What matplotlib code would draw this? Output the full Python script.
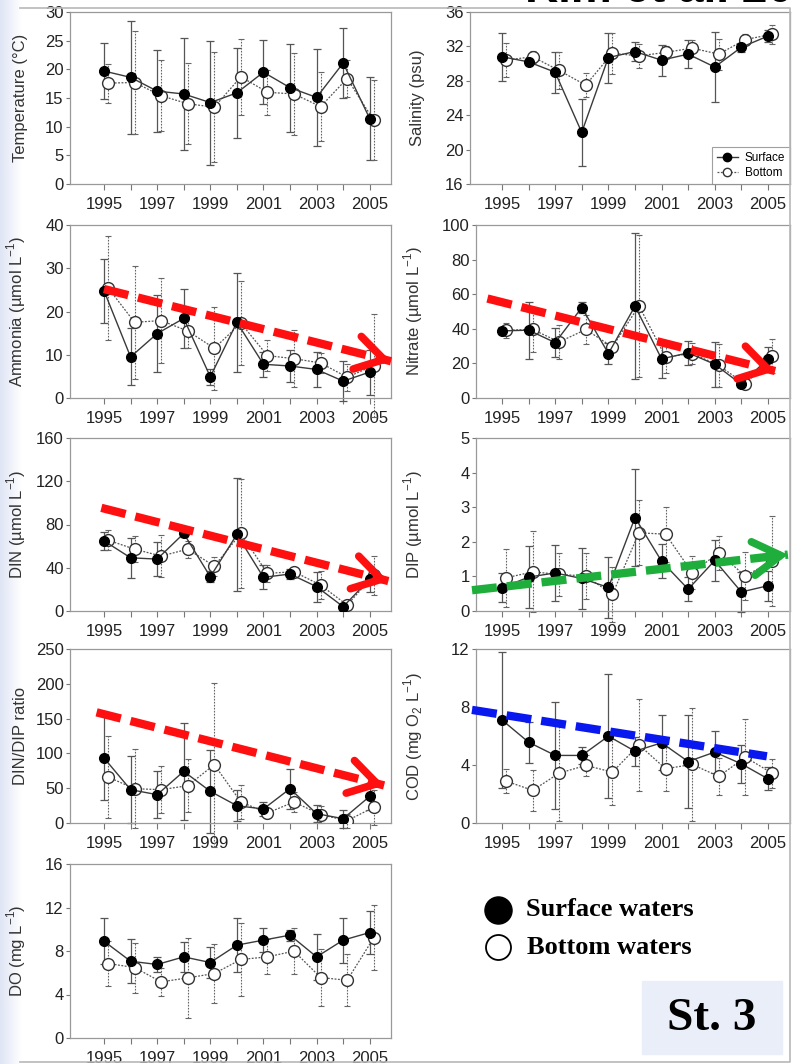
import numpy as np
import matplotlib.pyplot as plt
from matplotlib.lines import Line2D
from matplotlib.patches import Rectangle
from matplotlib.colors import LinearSegmentedColormap

plt.rcParams['font.family'] = ['Liberation Sans', 'DejaVu Sans']

years = np.arange(1995, 2006)

# --- data (mean and +/- sd) ---
temp_surf = [19.7, 18.6, 16.2, 15.7, 14.2, 15.9, 19.5, 16.8, 15.1, 21.1, 11.4]
temp_surf_sd = [4.9, 9.8, 7.2, 9.8, 10.8, 7.8, 5.6, 7.7, 8.4, 6.1, 7.2]
temp_bot = [17.6, 17.7, 15.4, 14.0, 13.4, 18.7, 16.0, 15.7, 13.5, 18.4, 11.1]
temp_bot_sd = [3.4, 9.0, 6.2, 7.1, 9.6, 6.6, 3.9, 7.1, 6.0, 3.3, 7.0]

sal_surf = [30.8, 30.2, 29.0, 22.0, 30.7, 31.4, 30.4, 31.1, 29.6, 31.9, 33.2]
sal_surf_sd = [2.8, 0.4, 2.4, 3.9, 2.9, 1.1, 1.8, 1.6, 4.1, 0.5, 0.7]
sal_bot = [30.4, 30.8, 29.2, 27.5, 31.2, 30.9, 31.3, 31.8, 31.1, 32.8, 33.4]
sal_bot_sd = [2.0, 0.7, 2.1, 1.4, 2.4, 1.4, 0.8, 1.0, 1.8, 0.6, 1.1]

amm_surf = [24.8, 9.5, 14.9, 18.4, 4.9, 17.5, 7.8, 7.4, 6.6, 3.9, 6.0]
amm_surf_sd = [7.4, 6.6, 8.9, 6.9, 1.8, 11.5, 2.9, 3.6, 4.0, 4.7, 5.2]
amm_bot = [25.5, 17.5, 17.9, 15.5, 11.5, 17.3, 9.8, 9.1, 8.1, 4.8, 7.5]
amm_bot_sd = [12.0, 13.0, 9.8, 4.0, 9.6, 9.7, 3.5, 6.6, 2.3, 3.1, 12.0]

nit_surf = [38.8, 39.2, 32.0, 52.3, 25.7, 53.1, 22.6, 26.1, 19.5, 7.9, 22.8]
nit_surf_sd = [2.0, 16.4, 8.5, 3.4, 6.0, 42.0, 11.0, 7.0, 13.0, 1.0, 6.5]
nit_bot = [39.2, 39.6, 32.4, 39.6, 29.5, 53.3, 23.7, 25.7, 18.9, 7.9, 24.3]
nit_bot_sd = [4.4, 13.0, 9.8, 8.3, 3.0, 41.0, 9.0, 6.0, 12.5, 1.0, 10.0]

din_surf = [64.9, 49.2, 48.0, 71.7, 31.7, 70.8, 31.1, 34.2, 22.5, 4.0, 29.5]
din_surf_sd = [8.5, 18.6, 16.0, 3.0, 5.0, 52.0, 11.0, 5.0, 14.0, 2.0, 12.0]
din_bot = [65.5, 57.2, 50.8, 57.2, 41.5, 71.7, 34.8, 36.3, 24.0, 5.5, 33.0]
din_bot_sd = [9.0, 12.0, 19.5, 8.0, 8.8, 50.0, 7.7, 4.6, 12.6, 2.0, 18.0]

dip_surf = [0.67, 0.98, 1.10, 0.94, 0.68, 2.70, 1.44, 0.63, 1.46, 0.55, 0.73]
dip_surf_sd = [0.42, 0.90, 0.82, 0.88, 0.87, 1.39, 0.50, 0.34, 0.58, 0.57, 0.43]
dip_bot = [0.96, 1.13, 1.06, 1.01, 0.48, 2.26, 2.22, 1.11, 1.68, 1.01, 1.45]
dip_bot_sd = [0.84, 1.17, 0.62, 0.67, 0.80, 0.94, 0.80, 0.47, 0.50, 0.70, 1.30]

ratio_surf = [93.4, 47.9, 40.7, 74.2, 45.5, 24.9, 20.1, 49.3, 13.4, 6.2, 38.3]
ratio_surf_sd = [60, 48, 34, 70, 60, 22, 9.5, 29, 12, 13, 19]
ratio_bot = [66.1, 49.3, 47.9, 53.6, 83.8, 30.2, 14.4, 30.2, 12.0, 3.4, 22.5]
ratio_bot_sd = [59, 57, 34, 38, 118, 25, 7, 14, 12, 10, 25]

cod_surf = [7.1, 5.57, 4.66, 4.66, 5.99, 4.95, 5.53, 4.24, 4.89, 4.08, 3.05]
cod_surf_sd = [4.7, 1.4, 3.7, 0.6, 4.3, 1.0, 1.9, 3.2, 1.45, 1.3, 0.8]
cod_bot = [2.89, 2.25, 3.44, 3.97, 3.51, 5.39, 3.74, 4.04, 3.21, 4.54, 3.44]
cod_bot_sd = [0.85, 1.4, 3.3, 0.7, 2.3, 3.15, 1.5, 3.9, 1.3, 2.6, 1.0]

do_surf = [8.9, 7.06, 6.76, 7.46, 6.94, 8.54, 9.0, 9.46, 7.46, 9.0, 9.7]
do_surf_sd = [2.1, 2.0, 0.7, 1.4, 1.4, 2.45, 1.07, 0.5, 2.1, 2.07, 2.0]
do_bot = [6.85, 6.48, 5.16, 5.53, 5.93, 7.22, 7.46, 7.99, 5.56, 5.31, 9.21]
do_bot_sd = [2.1, 2.3, 1.3, 3.7, 2.7, 3.4, 1.6, 2.1, 2.65, 2.4, 3.0]

# trend arrows: (start, end) in data units
amm_trend = [(1995.0, 25.2), (2005.8, 8.5)]
nit_trend = [(1994.45, 57.5), (2005.27, 15.6)]
din_trend = [(1994.9, 95.4), (2005.7, 27.7)]
dip_trend = [(1993.87, 0.60), (2005.75, 1.63)]
ratio_trend = [(1994.72, 159.0), (2005.54, 54.0)]
cod_trend = [(1993.87, 7.8), (2004.96, 4.6)]

ul = r'$^{\mathregular{-1}}$'
panels = [
    ('Temperature (°C)', temp_surf, temp_surf_sd, temp_bot, temp_bot_sd, (0, 30, 5), None, None),
    ('Salinity (psu)', sal_surf, sal_surf_sd, sal_bot, sal_bot_sd, (16, 36, 4), None, None),
    ('Ammonia (µmol L' + ul + ')', amm_surf, amm_surf_sd, amm_bot, amm_bot_sd, (0, 40, 10), amm_trend, '#ff1010'),
    ('Nitrate (µmol L' + ul + ')', nit_surf, nit_surf_sd, nit_bot, nit_bot_sd, (0, 100, 20), nit_trend, '#ff1010'),
    ('DIN (µmol L' + ul + ')', din_surf, din_surf_sd, din_bot, din_bot_sd, (0, 160, 40), din_trend, '#ff1010'),
    ('DIP (µmol L' + ul + ')', dip_surf, dip_surf_sd, dip_bot, dip_bot_sd, (0, 5, 1), dip_trend, '#1fae3c'),
    ('DIN/DIP ratio', ratio_surf, ratio_surf_sd, ratio_bot, ratio_bot_sd, (0, 250, 50), ratio_trend, '#ff1010'),
    ('COD (mg O$_{\\mathregular{2}}$ L' + ul + ')', cod_surf, cod_surf_sd, cod_bot, cod_bot_sd, (0, 12, 4), cod_trend, '#0a18f0'),
    ('DO (mg L' + ul + ')', do_surf, do_surf_sd, do_bot, do_bot_sd, (0, 16, 4), None, None),
]

W, H = 798, 1064
fig = plt.figure(figsize=(W / 100, H / 100), dpi=100)

# pixel boxes (left, right, top, bottom), x-limits and ylabel centre x
rows = [(12, 184), (225, 398), (438, 611), (649, 823), (864, 1038)]
left_box = (70, 391)
right_box = (476, 790)
label_x_left = 28
label_x_right = 425

for i, (label, s, s_sd, b, b_sd, yt, trend, tcol) in enumerate(panels):
    r, c = divmod(i, 2)
    top, bot = rows[r]
    if c == 0:
        x0, x1 = left_box
        xlim = (1993.72, 2005.8)
        lx = label_x_left
    else:
        x0, x1 = right_box
        xlim = (1994.02, 2005.83)
        lx = label_x_right
        if i == 1:
            x0, xlim = 470, (1993.8, 2005.83)
    ax = fig.add_axes([x0 / W, 1 - bot / H, (x1 - x0) / W, (bot - top) / H])

    # surface
    eb = ax.errorbar(years, s, yerr=s_sd, fmt='none', ecolor='#555555', elinewidth=0.9,
                     capsize=3, capthick=0.9, zorder=2)
    for art in eb.lines[1]:
        art.set_clip_on(False)
    for art in eb.lines[2]:
        art.set_clip_on(False)
    # bottom
    xb = years + 0.15
    eb2 = ax.errorbar(xb, b, yerr=b_sd, fmt='none', ecolor='#666666', elinewidth=0.8,
                      capsize=2.5, capthick=0.8, zorder=2)
    for art in eb2.lines[2]:
        art.set_linestyle((0, (1.5, 1.2)))
        art.set_clip_on(False)
    for art in eb2.lines[1]:
        art.set_clip_on(False)
    ax.plot(xb, b, color='#555555', lw=0.9, ls=(0, (1.5, 1.2)), marker='o', ms=8.5,
            mfc='white', mec='#333333', mew=1.0, zorder=3, label='Bottom')
    ax.plot(years, s, color='#3a3a3a', lw=1.0, marker='o', ms=7, mfc='black',
            mec='black', zorder=4, label='Surface')

    ax.set_xlim(*xlim)
    ax.set_ylim(yt[0], yt[1])
    ax.set_yticks(np.arange(yt[0], yt[1] + yt[2] / 2, yt[2]))
    ax.set_xticks([1995, 1997, 1999, 2001, 2003, 2005])
    ax.set_xticks([1996, 1998, 2000, 2002, 2004], minor=True)
    ax.tick_params(axis='x', which='both', direction='out', length=4.5, width=0.8,
                   color='#777777', labelsize=12, pad=5, labelcolor='#222222')
    ax.tick_params(axis='y', direction='out', length=3, width=0.8, color='#777777',
                   labelsize=12, pad=1.5, labelcolor='#222222')
    for sp in ax.spines.values():
        sp.set_color('#999999')
        sp.set_linewidth(0.9)
    ax.set_ylabel(label, fontsize=12, color='#333333')
    ax.yaxis.set_label_coords(-(x0 - lx) / (x1 - x0), 0.5)

    if trend is not None:
        (xs, ys), (xe, ye) = trend
        ax.plot([xs, xe], [ys, ye], color=tcol, lw=6, dashes=(3.0, 1.2),
                solid_capstyle='butt', dash_capstyle='butt', clip_on=False, zorder=6)
        if tcol != '#0a18f0':
            xp = xe - 0.03 * (xe - xs)
            yp = ye - 0.03 * (ye - ys)
            ax.annotate('', xy=(xe, ye), xytext=(xp, yp), annotation_clip=False, zorder=6,
                        arrowprops=dict(arrowstyle='->,head_length=0.9,head_width=0.55',
                                        lw=5.5, color=tcol, mutation_scale=22,
                                        shrinkA=0, shrinkB=0, joinstyle='miter'))

    if i == 1:
        handles = [Line2D([], [], color='#3a3a3a', lw=1, marker='o', ms=6, mfc='black', mec='black'),
                   Line2D([], [], color='#555555', lw=0.9, ls=(0, (1.5, 1.2)), marker='o', ms=6,
                          mfc='white', mec='#333333')]
        leg = ax.legend(handles, ['Surface', 'Bottom'], loc='lower right', fontsize=8.5,
                        fancybox=False, edgecolor='#888888', borderaxespad=0.0,
                        handlelength=1.8, handletextpad=0.6, borderpad=0.4, labelspacing=0.3)
        leg.get_frame().set_linewidth(0.8)

# decorations in pixel coordinates
deco = fig.add_axes([0, 0, 1, 1], zorder=-1)
grad = np.linspace(0, 1, 40).reshape(1, -1)
cmap = LinearSegmentedColormap.from_list('edge', ['#dfe5f4', '#ffffff'])
deco.imshow(grad, extent=(0, 22, H, 0), cmap=cmap, aspect='auto')
deco.set_xlim(0, W)
deco.set_ylim(H, 0)
deco.axis('off')

over = fig.add_axes([0, 0, 1, 1], zorder=10)
over.set_xlim(0, W)
over.set_ylim(H, 0)
over.axis('off')
over.patch.set_alpha(0)
over.plot([20, 790, 790, 20], [8, 8, 1062, 1062], color='#b8b8b8', lw=1.2)
over.text(525, 2.5, 'Kim et al. 2008', fontsize=33, fontweight='bold', va='baseline',
          ha='left', color='black')

over.plot([498], [910], 'o', ms=19.5, mfc='black', mec='black')
over.plot([498], [947], 'o', ms=18, mfc='white', mec='black', mew=1.3)
over.text(526, 910, 'Surface waters', fontsize=19, fontweight='bold', va='center',
          family='Liberation Serif')
over.text(527, 947, 'Bottom waters', fontsize=19, fontweight='bold', va='center',
          family='Liberation Serif')
over.add_patch(Rectangle((642, 981), 140, 73, color='#e9eef8', zorder=1))
over.text(712, 1019, 'St. 3', fontsize=34, fontweight='bold', va='center', ha='center',
          family='Liberation Serif', zorder=2)

fig.savefig('out.png', dpi=100)
